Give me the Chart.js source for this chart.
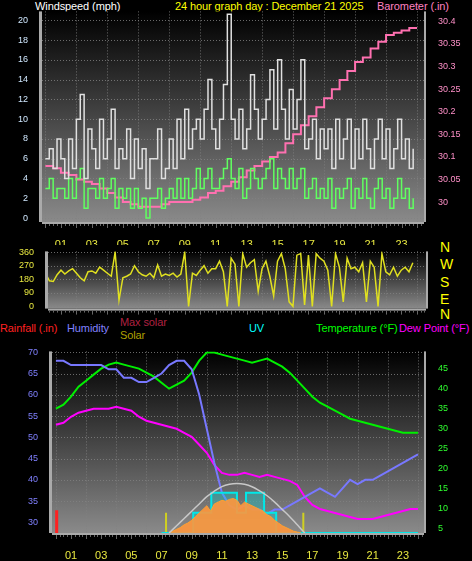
<!DOCTYPE html>
<html><head><meta charset="utf-8">
<script src="https://cdn.jsdelivr.net/npm/chart.js@4"></script>
<style>
body{margin:0;background:#000;width:472px;height:561px;overflow:hidden;position:relative;font-family:"Liberation Sans",sans-serif}
canvas{position:absolute;left:0}
.t{position:absolute;font-size:11px;white-space:nowrap;line-height:12px;letter-spacing:-0.1px}
.d{position:absolute;left:440px;color:#ffff00;font-size:14px;line-height:14px;font-family:"Liberation Sans",sans-serif}
</style></head><body>
<div class="t" style="left:35px;top:0;color:#fff">Windspeed (mph)</div>
<div class="t" style="left:175px;top:0;color:#ffff00">24 hour graph day : December 21 2025</div>
<div class="t" style="left:377px;top:0;color:#ff80c0">Barometer (.in)</div>
<div class="d" style="top:240px">N</div><div class="d" style="top:257px">W</div><div class="d" style="top:275px">S</div><div class="d" style="top:292px">E</div><div class="d" style="top:307px">N</div>
<div class="t" style="left:0;top:322px;color:#ff2020">Rainfall (.in)</div>
<div class="t" style="left:67px;top:322px;color:#8080ff">Humidity</div>
<div class="t" style="left:120px;top:316px;color:#b02040">Max solar</div>
<div class="t" style="left:120px;top:329px;color:#b0a000">Solar</div>
<div class="t" style="left:249px;top:322px;color:#00ffff">UV</div>
<div class="t" style="left:316px;top:322px;color:#00ff00">Temperature (°F)</div>
<div class="t" style="left:399px;top:322px;color:#ff00ff">Dew Point (°F)</div>
<canvas id="c1" width="472" height="245" style="top:0"></canvas>
<canvas id="c2" width="472" height="80" style="top:240px"></canvas>
<canvas id="c3" width="472" height="221" style="top:340px"></canvas>
<script>
// ---- data ----
const hourLabels = ["01","03","05","07","09","11","13","15","17","19","21","23"];
const windGust = [6,7,5,8, 6,4,8,5, 10,12.5,4,9, 7,5,10,6, 8,11,5,7, 6,9,4,8, 5,7,3,6, 6,9,4,5, 8,5,10,6, 11,7,9,10, 8,11,14,9, 7,10,13.5,20.6, 10,8,11,7, 9,14.5,11,8, 10,12,15,9, 16,11,8,13, 9,12,16,7, 8,10,6,9, 7,9,5,10, 6,8,10,5, 9,6,10,7, 5,8,10,6, 9,5,7,10, 6,8,5,7];
const windAvg = [3,4,2,3, 3,2,4,2, 4,5,1,3, 3,2,4,2, 3,4,1,3, 2,3,1,3, 1,2,0,2, 2,3,1,2, 3,2,4,2, 4,2,3,5, 3,4,5,3, 3,4,5,6, 4,3,5,2, 3,5,4,3, 4,5,6,3, 5,4,3,5, 3,4,5,2, 3,4,2,3, 2,4,1,3, 2,3,4,1, 3,2,4,2, 1,3,4,2, 3,1,2,4, 2,3,1,2];
const baro = [30.08,30.075,30.065,30.06,30.05,30.045,30.04,30.03,30.02,30.01,30.0,29.995,29.99,29.99,29.99,29.995,30.0,30.0,30.0,30.005,30.01,30.02,30.025,30.035,30.045,30.055,30.07,30.08,30.09,30.1,30.11,30.13,30.15,30.17,30.19,30.21,30.23,30.25,30.27,30.29,30.31,30.32,30.34,30.355,30.37,30.375,30.38,30.385,30.385];
const windDir = [220,170,165,210, 240,215,235,250, 220,190,170,230, 235,220,260,240, 220,200,360,40, 190,200,215,270, 230,210,200,220, 190,275,200,215, 205,220,195,215, 360,0,220,205, 240,270,220,250, 250,300,230,0, 320,280,0,350, 260,290,310,100, 250,300,200,70, 300,350,250,30, 0,340,350,10, 340,0,350,320, 300,240,0,350, 260,30,320,250, 260,230,290,30, 300,260,0,350, 230,210,260,200, 240,260,230,290];
const humidity = [68,68,67,67,67,67,67,66,66,64,64,63,63,64,65,67,68,68,66,60,52,44,37,34,33,34,33,33,32,33,33,34,35,36,37,38,37,36,38,40,39,40,40,41,42,43,44,45,46];
const temperature = [35,36,38,40.5,42,43.5,45,46,46.5,46,45.5,45,44,43,41.5,40,41,42,44,47,49,49,48.5,48,47.5,47,46.5,47,47.5,46.5,45.5,44,42,40,38,36.5,35.5,34.5,33.5,32.5,32,31.5,31,30.5,30,29.5,29,29,29];
const dewPoint = [31,31.5,33,34,34.5,35,35,35,35.5,35,34.5,33,32,31.5,31,30.5,30,29,28,26,24,21,19,18.5,18.5,19,18.5,18,18.5,18,17.5,17,16,13,11,10,9.5,9,8.5,8,7.5,7.5,7.5,8,8.5,9,9.5,10,10];
const solarTimes = [7.5,7.75,8,8.25,8.5,8.75,9,9.25,9.5,9.75,10,10.25,10.5,10.75,11,11.25,11.5,11.75,12,12.25,12.5,12.75,13,13.25,13.5,13.75,14,14.25,14.5,14.75,15,15.25,15.5,15.75,16,16.25];
const solar = [5,10,20,30,45,55,70,90,110,130,150,120,160,170,180,175,185,190,180,150,170,160,150,140,130,120,100,90,70,55,40,30,20,10,5,0];
const maxSolarTimes = [7.5,8,8.5,9,9.5,10,10.5,11,11.5,12,12.5,13,13.5,14,14.5,15,15.5,16,16.5];
const maxSolar = [0,40,80,120,160,200,230,255,268,272,268,255,232,205,170,130,90,45,0];
const uvTimes = [7,9.1,10.3,12,12.6,13.8,14.6,24];
const uv = [0,1,2,1,2,1,0,0];
const rainTimes = [0.05,0.05];
const rain = [0,0.025];
const sunTimes = [7.3,16.4];

// ---- helpers ----
const q = (vals, step) => vals.map((v,i)=>({x:i*step,y:v}));
const pair = (ts, vs) => ts.map((t,i)=>({x:t,y:vs[i]}));
const FONT = 'Liberation Sans';
const bgPlugin = {id:'bg',beforeDraw(c){const a=c.chartArea,x=c.ctx;const g=x.createLinearGradient(0,a.top,0,a.bottom);g.addColorStop(0,'#000');g.addColorStop(1,'#8a8a8a');x.save();x.fillStyle=g;x.fillRect(a.left,a.top,a.right-a.left,a.bottom-a.top);
 x.strokeStyle='rgba(130,130,130,0.8)';x.setLineDash([1,2]);x.lineWidth=1;const xs=c.scales.x;for(let h=0;h<=24;h+=2){const p=Math.round(xs.getPixelForValue(h))+0.5;if(p>a.left&&p<a.right){x.beginPath();x.moveTo(p,a.top);x.lineTo(p,a.bottom);x.stroke();}}
 const ys=c.scales.y;ys.ticks.forEach(t=>{const p=Math.round(ys.getPixelForValue(t.value))+0.5;x.beginPath();x.moveTo(a.left,p);x.lineTo(a.right,p);x.stroke();});
 x.setLineDash([]);x.fillStyle='#aaa';x.fillRect(a.left-3,a.top,3,a.bottom-a.top);x.fillRect(a.right,a.top,2,a.bottom-a.top);x.fillRect(a.left,a.bottom,a.right-a.left,2);
 x.fillStyle='#666';for(let h=0;h<=24.5;h+=0.25){const p=Math.round(xs.getPixelForValue(h));if(p>=a.left&&p<=a.right)x.fillRect(p,a.bottom+2,1,h%1===0?4:2);}
 x.restore();}};
function xAxis(min,max,h,show){return {type:'linear',min,max,afterBuildTicks(s){s.ticks=[1,3,5,7,9,11,13,15,17,19,21,23].map(v=>({value:v}));},
 afterFit(s){s.height=h;},grid:{display:false},border:{display:false},
 ticks:{display:show,color:'#e8e840',font:{size:11,family:FONT},padding:8,maxRotation:0,callback:(v,i)=>hourLabels[i]}};}
function yAxis(pos,min,max,step,w,color,show,extra){return Object.assign({axis:'y',position:pos,min,max,afterFit(s){s.width=w;},grid:{display:false},border:{display:false},
 ticks:{display:show,color,font:{size:9,family:FONT},stepSize:step,padding:6}},extra||{});}
const hid = (min,max)=>({axis:'y',display:false,min,max});
const base = {responsive:false,animation:false,plugins:{legend:{display:false},tooltip:{enabled:false}},elements:{point:{radius:0}}};

// ---- chart 1: wind + barometer ----
new Chart(document.getElementById('c1'),{type:'line',plugins:[bgPlugin],data:{datasets:[
 {data:q(windGust,0.25),borderColor:'#e0e0e0',borderWidth:1.5,stepped:true,yAxisID:'y'},
 {data:q(windAvg,0.25),borderColor:'#60ff60',borderWidth:1.5,stepped:true,yAxisID:'y'},
 {data:q(baro,0.5),borderColor:'#ff70b0',borderWidth:2,stepped:true,yAxisID:'y2'}]},
 options:Object.assign({},base,{layout:{padding:{top:10}},scales:{
 x:xAxis(-0.22,24.45,23,true),
 y:yAxis('left',-0.4,20.9,2,42,'#d0e8ff',true,{afterBuildTicks(s){s.ticks=[0,2,4,6,8,10,12,14,16,18,20].map(v=>({value:v}));}}),
 y2:yAxis('right',29.956,30.422,0.05,48,'#ff90c8',true,{afterBuildTicks(s){s.ticks=[30.0,30.05,30.1,30.15,30.2,30.25,30.3,30.35,30.4].map(v=>({value:v}));},ticks:{color:'#ff90c8',font:{size:9,family:FONT},padding:6,callback:v=>String(+v.toFixed(2))}})}})});

// ---- chart 2: wind direction ----
new Chart(document.getElementById('c2'),{type:'line',plugins:[bgPlugin],data:{datasets:[
 {data:q(windDir,0.25),borderColor:'#e0e020',borderWidth:1.5}]},
 options:Object.assign({},base,{layout:{padding:{top:7,bottom:2}},scales:{
 x:xAxis(0.16,24.6,2,false),
 y:yAxis('left',-15,365,90,48,'#e8e840',true,{afterBuildTicks(s){s.ticks=[0,90,180,270,360].map(v=>({value:v}));}}),
 yr:yAxis('right',0,1,1,46,'#000',false)}})});

// ---- chart 3: humidity, temp, dew, solar, uv ----
new Chart(document.getElementById('c3'),{type:'line',plugins:[bgPlugin],data:{datasets:[
 {data:pair(maxSolarTimes,maxSolar),borderColor:'#c8c8c8',borderWidth:1.5,tension:0.4,yAxisID:'sol'},
 {data:pair(solarTimes,solar),borderColor:'#ffa030',borderWidth:1,fill:'origin',backgroundColor:'rgba(255,150,60,0.9)',yAxisID:'sol'},
 {data:pair(uvTimes,uv),borderColor:'#00e8e8',borderWidth:2,stepped:true,fill:'origin',backgroundColor:'rgba(0,230,230,0.3)',yAxisID:'uv'},
 {data:[{x:sunTimes[0],y:0},{x:sunTimes[0],y:1}],borderColor:'#d0d020',borderWidth:2,yAxisID:'uv'},
 {data:[{x:sunTimes[1],y:0},{x:sunTimes[1],y:1}],borderColor:'#d0d020',borderWidth:2,yAxisID:'uv'},
 {data:pair(rainTimes,rain),borderColor:'#ff2020',borderWidth:3,yAxisID:'rain'},
 {data:q(humidity,0.5),borderColor:'#7878ff',borderWidth:2,yAxisID:'y'},
 {data:q(temperature,0.5),borderColor:'#00f000',borderWidth:2,yAxisID:'t'},
 {data:q(dewPoint,0.5),borderColor:'#ff00ff',borderWidth:2,yAxisID:'t'}]},
 options:Object.assign({},base,{layout:{padding:{top:3}},scales:{
 x:xAxis(-0.26,24.4,28,true),
 y:yAxis('left',27.5,70.2,5,52,'#8080ff',true,{afterBuildTicks(s){s.ticks=[30,35,40,45,50,55,60,65,70].map(v=>({value:v}));}}),
 t:yAxis('right',4,49.3,5,48,'#30ff30',true,{afterBuildTicks(s){s.ticks=[5,10,15,20,25,30,35,40,45].map(v=>({value:v}));}}),
 sol:hid(0,1000),
 uv:hid(0,9),
 rain:hid(0,0.2)}})});
</script>
</body></html>
